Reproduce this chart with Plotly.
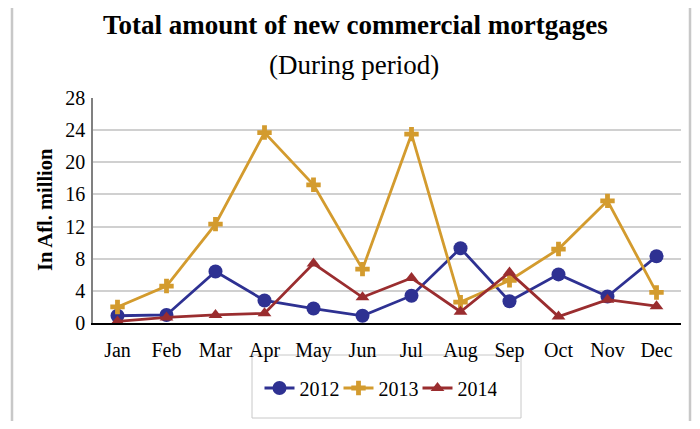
import plotly.graph_objects as go

months = ["Jan", "Feb", "Mar", "Apr", "May", "Jun", "Jul", "Aug", "Sep", "Oct", "Nov", "Dec"]
v2012 = [0.9, 1.0, 6.4, 2.8, 1.8, 0.9, 3.4, 9.3, 2.7, 6.05, 3.3, 8.3]
v2013 = [2.0, 4.6, 12.3, 23.7, 17.2, 6.7, 23.5, 2.6, 5.3, 9.2, 15.2, 3.8]
v2014 = [0.2, 0.7, 1.0, 1.2, 7.4, 3.2, 5.6, 1.4, 6.3, 0.8, 2.9, 2.1]
y_ticks = [0, 4, 8, 12, 16, 20, 24, 28]

FONT = "Liberation Serif"

fig = go.Figure()
fig.add_trace(go.Scatter(x=months, y=v2012, name="2012", mode="lines+markers",
                         line=dict(color="#2E3192", width=2.8),
                         marker=dict(symbol="circle", size=14, color="#2E3192")))
fig.add_trace(go.Scatter(x=months, y=v2013, name="2013", mode="lines+markers",
                         line=dict(color="#D39B2E", width=2.8),
                         marker=dict(symbol="cross", size=12, color="#D39B2E")))
fig.add_trace(go.Scatter(x=months, y=v2014, name="2014", mode="lines+markers",
                         line=dict(color="#9A2D2F", width=2.8),
                         marker=dict(symbol="triangle-up", size=12, color="#9A2D2F")))

OFF = 8  # page body margin
FW, FH = 700 - 2 * OFF, 429 - 2 * OFF
L, R, T, B = 93 - OFF, 681 - OFF, 98 - OFF, 323 - OFF
W, H = R - L, B - T
def px(x):
    return (x - OFF - L) / W
def py(y):
    return (B - (y - OFF)) / H

fig.update_layout(
    width=FW, height=FH,
    margin=dict(l=L, r=FW - R, t=T, b=FH - B, autoexpand=False),
    paper_bgcolor="white", plot_bgcolor="white",
    font=dict(family=FONT, size=20, color="black"),
    showlegend=True,
    legend=dict(orientation="h", xanchor="center", yanchor="middle",
                x=px(378), y=py(388), font=dict(size=20, family=FONT),
                bgcolor="rgba(0,0,0,0)", itemwidth=30, tracegroupgap=0,
                entrywidth=34, entrywidthmode="pixels"),
    xaxis=dict(type="category", categoryorder="array", categoryarray=months,
               range=[-0.5, 11.5], showgrid=False, showline=True,
               linecolor="black", linewidth=1.5, ticks="", ticklabelstandoff=8,
               tickfont=dict(size=20), fixedrange=True, automargin=False),
    yaxis=dict(range=[0, 28], tickvals=y_ticks, showgrid=True,
               gridcolor="#D0D0D0", gridwidth=1.5, showline=True,
               linecolor="#808080", linewidth=1.5, ticks="", ticklabelstandoff=2,
               tickfont=dict(size=20), zeroline=False, fixedrange=True, automargin=False),
    shapes=[
        dict(type="rect", xref="paper", yref="paper",
             x0=px(12), x1=px(690), y0=py(440), y1=py(5),
             line=dict(color="#C8C8C8", width=2.5), fillcolor="rgba(0,0,0,0)", layer="below"),
        dict(type="rect", xref="paper", yref="paper",
             x0=px(252), x1=px(521), y0=py(418), y1=py(355),
             line=dict(color="#C8C8C8", width=1), fillcolor="rgba(0,0,0,0)", layer="below"),
    ],
    annotations=[
        dict(text="<b>Total amount of new commercial mortgages</b>", xref="paper", yref="paper",
             x=px(355), y=py(25), xanchor="center", yanchor="middle", showarrow=False,
             font=dict(size=27, family=FONT)),
        dict(text="(During period)", xref="paper", yref="paper",
             x=px(354), y=py(65), xanchor="center", yanchor="middle", showarrow=False,
             font=dict(size=27, family=FONT)),
        dict(text="<b>In Afl. million</b>", xref="paper", yref="paper",
             x=px(45), y=py(210), xanchor="center", yanchor="middle", showarrow=False,
             textangle=-90, font=dict(size=20.5, family=FONT)),
    ],
)

fig.write_html("out.html")
